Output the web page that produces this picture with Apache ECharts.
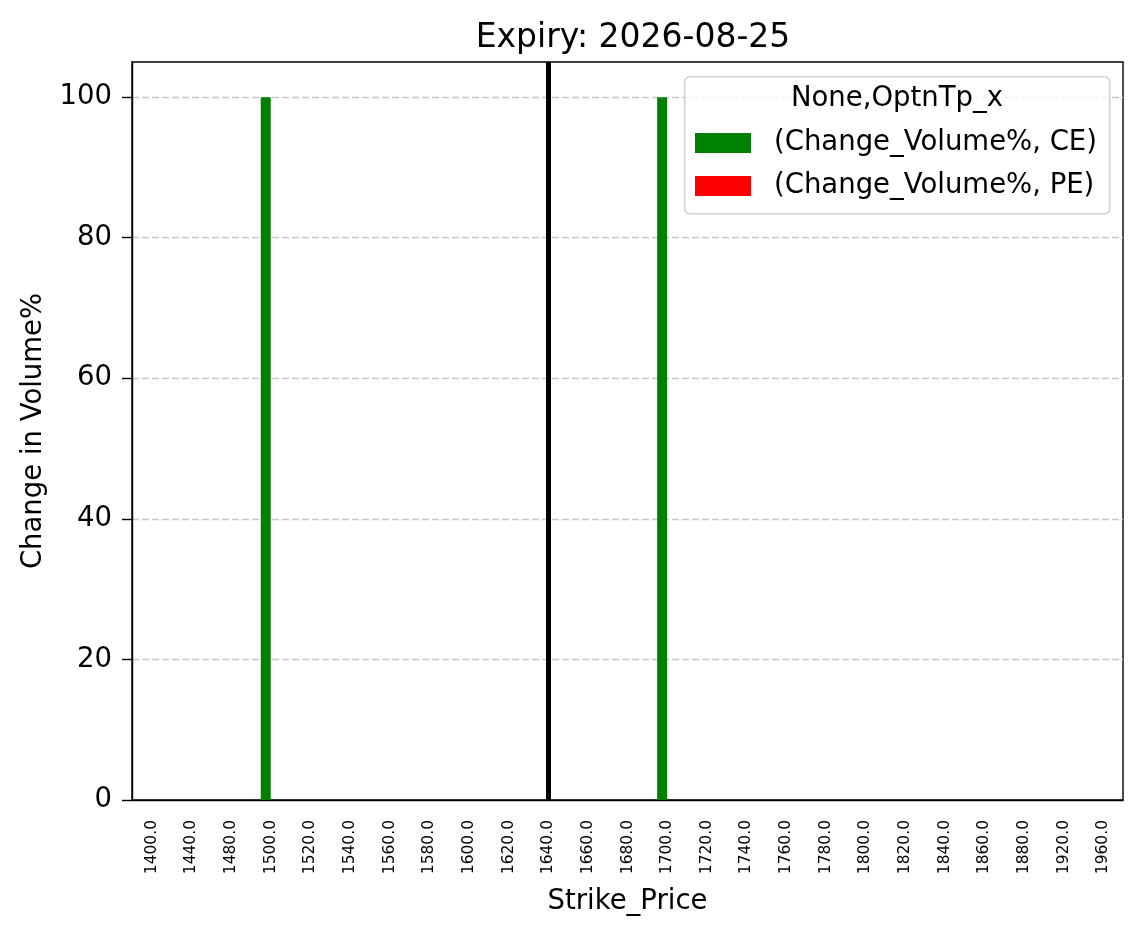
<!DOCTYPE html>
<html>
<head>
<meta charset="utf-8">
<script src="https://cdn.jsdelivr.net/npm/echarts@6/dist/echarts.min.js"></script>
<style>
	html, body { margin: 0; padding: 0; background: #fff; }
	#chart { width: 1143px; height: 939px; }
</style>
</head>
<body>
<div id="chart"></div>
<script>
var strikes = ['1400.0','1440.0','1480.0','1500.0','1520.0','1540.0','1560.0','1580.0','1600.0','1620.0',
	'1640.0','1660.0','1680.0','1700.0','1720.0','1740.0','1760.0','1780.0','1800.0','1820.0',
	'1840.0','1860.0','1880.0','1920.0','1960.0'];
var ceVolume = [0,0,0,100,0,0,0,0,0,0, 0,0,0,100,0,0,0,0,0,0, 0,0,0,0,0];
var peVolume = [0,0,0,0,0,0,0,0,0,0, 0,0,0,0,0,0,0,0,0,0, 0,0,0,0,0];
var spotStrike = '1640.0';
var yTicks = [0, 20, 40, 60, 80, 100];

var font = 'DejaVu Sans';
var chart = echarts.init(document.getElementById('chart'));

var option = {
	animation: false,
	title: {
		text: 'Expiry: 2026-08-25',
		left: 628, top: 17, textAlign: 'center',
		textStyle: { fontFamily: font, fontSize: 33, lineHeight: 33, fontWeight: 'normal', color: '#000' }
	},
	grid: {
		left: 132, right: 20, top: 62, bottom: 139,
		show: true, borderColor: '#000', borderWidth: 1.4, backgroundColor: '#fff'
	},
	legend: {
		left: 695, top: 129, orient: 'vertical', padding: 0,
		itemWidth: 56, itemHeight: 20, itemGap: 15,
		icon: 'rect', z: 6,
		textStyle: { fontFamily: font, fontSize: 27.5, lineHeight: 28, color: '#000', padding: [0, 0, 0, 18] },
		data: ['(Change_Volume%, CE)', '(Change_Volume%, PE)']
	},
	graphic: [
		{ type: 'rect', left: 684, top: 76, z: 5,
			shape: { width: 425, height: 137, r: 5 },
			style: { fill: 'rgba(255,255,255,0.8)', stroke: '#d0d0d0', lineWidth: 1.5 } },
		{ type: 'text', x: 897, y: 99, z: 7,
			style: { text: 'None,OptnTp_x', font: '27.5px DejaVu Sans', fill: '#000',
				align: 'center', verticalAlign: 'middle' } }
	],
	xAxis: {
		type: 'category',
		data: strikes,
		name: 'Strike_Price', nameLocation: 'middle', nameGap: 88,
		nameTextStyle: { fontFamily: font, fontSize: 27.5, lineHeight: 27.5, color: '#000' },
		axisLine: { lineStyle: { color: '#000', width: 1.4 } },
		axisTick: { alignWithLabel: true, length: 10, lineStyle: { color: '#000', width: 1.4 } },
		axisLabel: { rotate: 90, interval: 0, fontFamily: font, fontSize: 15.5, color: '#000', margin: 20 }
	},
	yAxis: {
		type: 'value', min: 0, max: 105, interval: 20,
		name: 'Change in Volume%', nameLocation: 'middle', nameGap: 84,
		nameTextStyle: { fontFamily: font, fontSize: 27.5, lineHeight: 27.5, color: '#000' },
		axisLine: { show: true, lineStyle: { color: '#000', width: 1.4 } },
		axisTick: { show: true, length: 10, lineStyle: { color: '#000', width: 1.4 } },
		axisLabel: { showMaxLabel: false, fontFamily: font, fontSize: 27.5, color: '#000', margin: 20,
			formatter: function (v) { return yTicks.indexOf(v) >= 0 ? v : ''; } },
		splitLine: { show: true, showMaxLine: false, showMinLine: false,
			lineStyle: { color: '#c8c8c8', type: [7, 3], width: 1.4 } }
	},
	series: [
		{
			name: '(Change_Volume%, CE)', type: 'bar',
			data: ceVolume, barWidth: 10, barGap: '0%',
			itemStyle: { color: '#008000' }
		},
		{
			name: '(Change_Volume%, PE)', type: 'bar',
			data: peVolume, barWidth: 10,
			itemStyle: { color: '#ff0000' }
		},
		{
			// spot strike marker
			name: 'spot', type: 'line', data: [],
			markLine: {
				silent: true, symbol: 'none', label: { show: false },
				lineStyle: { color: '#000', width: 5, type: 'solid' },
				data: [{ xAxis: spotStrike }]
			}
		}
	]
};
chart.setOption(option);
</script>
</body>
</html>
